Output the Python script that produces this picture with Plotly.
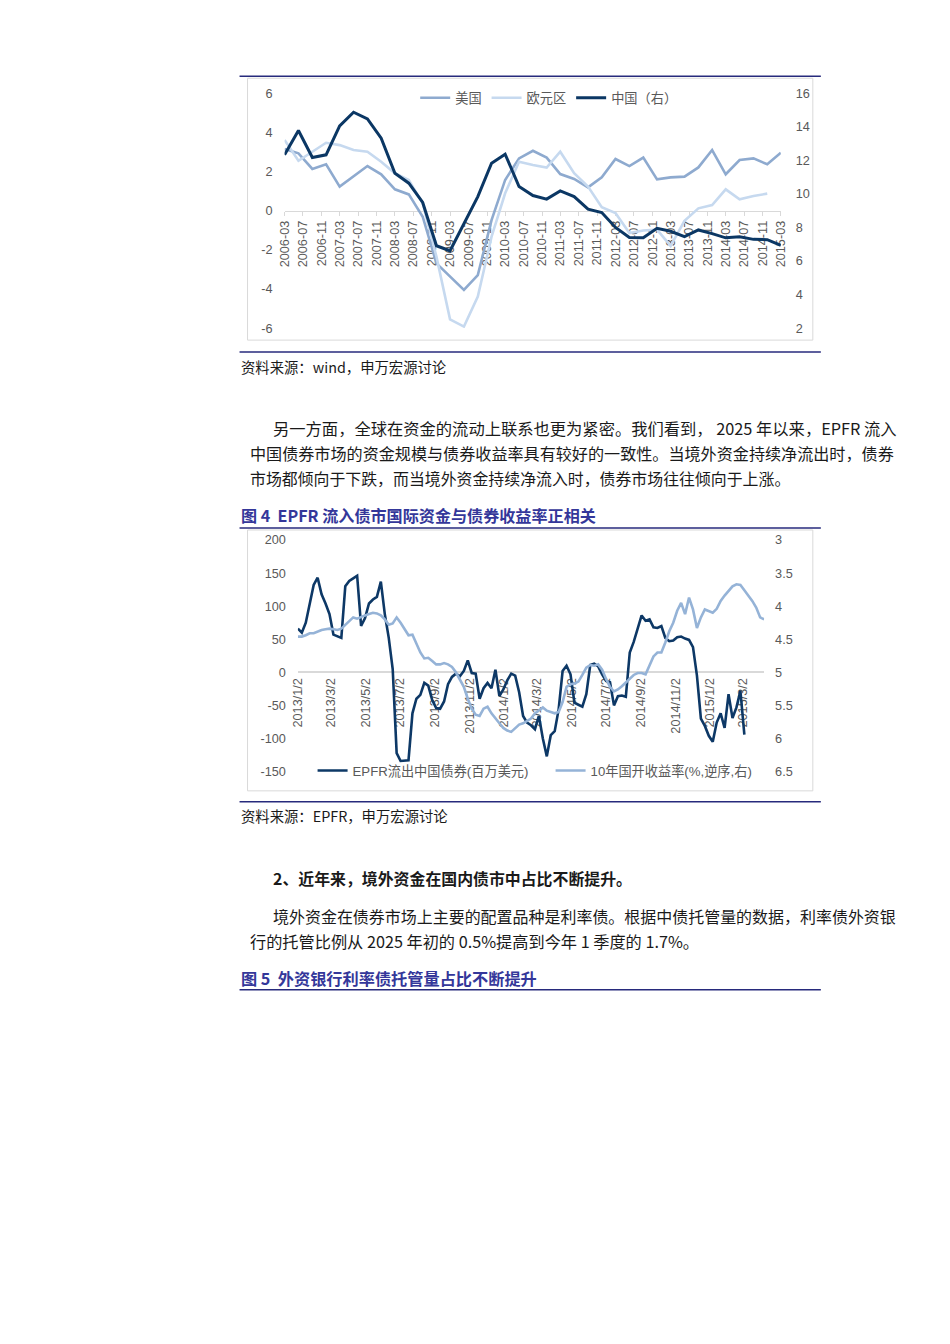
import pandas as pd
import plotly.graph_objects as go

# page is 950x1344; the browser keeps its 8px body margin
W, H = 950, 1344
PAD = 8
# measured: the photographed page comes out ~1.5% smaller, shifted ~7px
SX, OX = 0.9845, 7.7
SY, OY = 0.990, 6.8


def fx(x):
    return ((x - OX) / SX - PAD) / (W - 2 * PAD)


def fy(y):
    return 1 - ((y - OY) / SY - PAD) / (H - 2 * PAD)


# ---- chart 1: GDP growth, quarterly 2006-03 .. 2015-03 ----
us_growth = [3.15, 2.93, 2.13, 2.37, 1.23, 1.74, 2.28, 1.86, 1.09, 0.83, -0.31, -2.69,
             -3.37, -4.05, -3.29, -0.48, 1.57, 2.67, 3.06, 2.71, 1.87, 1.62, 1.19, 1.70,
             2.64, 2.28, 2.71, 1.60, 1.70, 1.74, 2.21, 3.10, 1.86, 2.59, 2.67, 2.37, 2.96]
euro_growth = [3.61, 2.55, 3.01, 3.47, 3.35, 3.10, 3.01, 2.50, 1.91, 1.57, 0.37, -2.35,
               -5.55, -5.92, -4.39, -1.33, 0.89, 2.50, 2.33, 2.20, 3.01, 1.91, 1.23, 0.18,
               -0.12, -1.14, -1.01, -0.97, -1.80, -0.52, 0.12, 0.29, 1.09, 0.58, 0.75, 0.87]
china_growth = [12.33, 13.78, 12.17, 12.33, 14.05, 14.87, 14.47, 13.32, 11.23, 10.64, 9.49, 6.91,
                6.61, 8.26, 9.84, 11.83, 12.37, 10.44, 9.90, 9.69, 10.18, 9.84, 9.09, 8.89,
                8.00, 7.40, 7.38, 7.95, 7.77, 7.45, 7.85, 7.63, 7.38, 7.45, 7.29, 7.27, 6.93]
quarters = pd.date_range("2006-03-01", periods=len(us_growth), freq="3MS")

# ---- chart 2: EPFR weekly flows vs 10y CDB yield ----
epfr_flow = [66, 60, 75, 105, 132, 143, 118, 104, 88, 57, 55, 52, 130, 138, 142, 146,
             70, 82, 104, 110, 114, 137, 88, 52, 5, -122, -134, -134, -133, -62, -40, -34,
             -16, -20, -42, -54, -55, -44, -18, -7, -2, -6, 2, 18, -1, -2, -40, -24,
             -16, -24, 4, -36, -26, -12, -2, -5, -30, -66, -76, -80, -86, -66, -100, -127,
             -95, -89, -56, 2, 10, -3, -46, -49, -52, -33, 11, 13, 9, -3, -13, -15,
             -50, -36, -35, -37, 30, 46, 67, 86, 78, 80, 68, 67, 70, 52, 47, 48,
             53, 54, 51, 49, 38, -5, -70, -81, -96, -105, -76, -62, -84, -33, -69, -53,
             -28, -94]
cdb_yield = [4.46, 4.46, 4.44, 4.41, 4.41, 4.38, 4.36, 4.35, 4.34, 4.35, 4.36, 4.34,
             4.28, 4.22, 4.17, 4.19, 4.16, 4.14, 4.12, 4.10, 4.11, 4.14, 4.20, 4.28,
             4.26, 4.17, 4.25, 4.35, 4.44, 4.43, 4.58, 4.70, 4.79, 4.78, 4.83, 4.88,
             4.88, 4.86, 4.88, 4.92, 5.00, 5.10, 5.22, 5.40, 5.55, 5.64, 5.66, 5.55,
             5.52, 5.62, 5.70, 5.77, 5.84, 5.88, 5.90, 5.84, 5.79, 5.77, 5.73, 5.70,
             5.62, 5.57, 5.53, 5.58, 5.60, 5.62, 5.60, 5.45, 5.22, 5.18, 5.17, 5.14,
             5.04, 4.93, 4.89, 4.90, 4.88, 4.96, 5.10, 5.22, 5.29, 5.26, 5.21, 5.15,
             5.09, 5.04, 5.01, 5.01, 5.03, 4.90, 4.76, 4.70, 4.70, 4.55, 4.38, 4.25,
             4.07, 3.95, 4.12, 3.87, 4.05, 4.33, 4.17, 4.05, 4.07, 4.10, 4.04, 3.92,
             3.84, 3.77, 3.70, 3.67, 3.68, 3.76, 3.84, 3.92, 4.02, 4.17, 4.20]
flow_weeks = pd.date_range("2013-01-02", periods=len(epfr_flow), freq="7D")
yield_weeks = pd.date_range("2013-01-02", periods=len(cdb_yield), freq="7D")
epfr_tick_labels = ["2013/1/2", "2013/3/2", "2013/5/2", "2013/7/2", "2013/9/2", "2013/11/2",
                    "2014/1/2", "2014/3/2", "2014/5/2", "2014/7/2", "2014/9/2", "2014/11/2",
                    "2015/1/2", "2015/3/2"]

left1_ticks = [-6, -4, -2, 0, 2, 4, 6]
right1_ticks = [2, 4, 6, 8, 10, 12, 14, 16]
left2_ticks = [-150, -100, -50, 0, 50, 100, 150, 200]
right2_ticks = [3, 3.5, 4, 4.5, 5, 5.5, 6, 6.5]

GRAY = "#595959"
AXIS_GRAY = "#d9d9d9"
CHART_FONT = "Liberation Sans, Arial, Noto Sans CJK SC, sans-serif"
TEXT_FONT = "Noto Sans CJK SC, sans-serif"

fig = go.Figure()

fig.add_trace(go.Scatter(x=quarters, y=us_growth, name="美国", mode="lines",
                         line=dict(color="#8eaacf", width=2.6), xaxis="x", yaxis="y"))
fig.add_trace(go.Scatter(x=quarters[:len(euro_growth)], y=euro_growth, name="欧元区", mode="lines",
                         line=dict(color="#c6d9ef", width=2.6), xaxis="x", yaxis="y"))
fig.add_trace(go.Scatter(x=quarters, y=china_growth, name="中国（右）", mode="lines",
                         line=dict(color="#0b3764", width=3), xaxis="x", yaxis="y2"))

fig.add_trace(go.Scatter(x=flow_weeks, y=epfr_flow, name="EPFR流出中国债券(百万美元)", mode="lines",
                         line=dict(color="#0d3866", width=2.6), xaxis="x2", yaxis="y3",
                         legend="legend2"))
fig.add_trace(go.Scatter(x=yield_weeks, y=cdb_yield, name="10年国开收益率(%,逆序,右)", mode="lines",
                         line=dict(color="#95b3d7", width=2.6), xaxis="x2", yaxis="y4",
                         legend="legend2"))

# plot areas (pixel coordinates)
y1_dom = [fy(328), fy(93)]
y2_dom = [fy(771.7), fy(540)]
zero1 = (y1_dom[0] + y1_dom[1]) / 2
zero2 = y2_dom[0] + (150 / 350) * (y2_dom[1] - y2_dom[0])

tickfont = dict(family=CHART_FONT, size=12.7, color=GRAY)

fig.update_layout(
    width=W - 2 * PAD, height=H - 2 * PAD,
    margin=dict(l=0, r=0, t=0, b=0),
    paper_bgcolor="white", plot_bgcolor="rgba(0,0,0,0)",
    font=dict(family=CHART_FONT, color=GRAY),
    xaxis=dict(domain=[fx(285), fx(781)], anchor="free", position=zero1, type="date",
               range=["2006-03-01", "2015-03-01"], tick0="2006-03-01", dtick="M4",
               tickformat="%Y-%m", tickangle=-90, tickfont=tickfont,
               showline=True, linecolor=AXIS_GRAY, linewidth=1,
               ticks="outside", ticklen=4, tickcolor=AXIS_GRAY,
               showgrid=False, zeroline=False, layer="below traces"),
    yaxis=dict(domain=y1_dom, anchor="x", range=[-6, 6], tickvals=left1_ticks,
               ticktext=[str(v) for v in left1_ticks], tickfont=tickfont,
               showgrid=False, zeroline=False, ticklabelstandoff=11),
    yaxis2=dict(domain=y1_dom, anchor="x", overlaying="y", side="right", range=[2, 16],
                tickvals=right1_ticks, tickfont=tickfont,
                showgrid=False, zeroline=False, ticklabelstandoff=14),
    xaxis2=dict(domain=[fx(298.3), fx(764.3)], anchor="free", position=zero2, type="date",
                range=["2013-01-02", "2015-04-08"],
                tickvals=pd.to_datetime(epfr_tick_labels, format="%Y/%m/%d"),
                ticktext=epfr_tick_labels, tickangle=-90, tickfont=tickfont,
                showline=True, linecolor=AXIS_GRAY, linewidth=1.5, ticks="",
                showgrid=False, zeroline=False, layer="below traces"),
    yaxis3=dict(domain=y2_dom, anchor="x2", range=[-150, 200], tickvals=left2_ticks,
                ticktext=[str(v) for v in left2_ticks], tickfont=tickfont,
                showgrid=False, zeroline=False, ticklabelstandoff=11),
    yaxis4=dict(domain=y2_dom, anchor="x2", overlaying="y3", side="right", range=[6.5, 3],
                tickvals=right2_ticks, tickfont=tickfont,
                showgrid=False, zeroline=False, ticklabelstandoff=10),
    legend=dict(orientation="h", x=fx(549), xanchor="center", y=fy(98), yanchor="middle",
                font=dict(family=CHART_FONT, size=13.2, color=GRAY), bgcolor="rgba(0,0,0,0)"),
    legend2=dict(orientation="h", x=fx(313), xanchor="left", y=fy(771), yanchor="middle",
                 font=dict(family=CHART_FONT, size=13.2, color=GRAY), bgcolor="rgba(0,0,0,0)",
                 entrywidth=193),
)

# page rules and chart frames
RULE = "#272a7c"
for ry in [76, 352, 528, 802, 990]:
    fig.add_shape(type="line", xref="paper", yref="paper", x0=fx(240), x1=fx(821),
                  y0=fy(ry), y1=fy(ry), line=dict(color=RULE, width=1.5))
for top, bottom in [(78, 340), (530, 791)]:
    fig.add_shape(type="rect", xref="paper", yref="paper", x0=fx(248), x1=fx(813),
                  y0=fy(bottom), y1=fy(top), line=dict(color=AXIS_GRAY, width=1), layer="below")

# page text
BODY = "#1a1a1a"
HEAD = "#34379a"
page_text = [
    (240, 366, "资料来源：wind，申万宏源讨论", 14.35, BODY, False),
    (272, 428, "另一方面，全球在资金的流动上联系也更为紧密。我们看到， 2025 年以来，EPFR 流入", 16.3, BODY, False),
    (249, 453, "中国债券市场的资金规模与债券收益率具有较好的一致性。当境外资金持续净流出时，债券", 16.1, BODY, False),
    (249, 478, "市场都倾向于下跌，而当境外资金持续净流入时，债券市场往往倾向于上涨。", 15.9, BODY, False),
    (240, 515, "图 4\u00a0\u00a0EPFR 流入债市国际资金与债券收益率正相关", 16.1, HEAD, True),
    (240, 816, "资料来源：EPFR，申万宏源讨论", 14.35, BODY, False),
    (272, 879, "2、近年来，境外资金在国内债市中占比不断提升。", 15.9, BODY, True),
    (272, 916, "境外资金在债券市场上主要的配置品种是利率债。根据中债托管量的数据，利率债外资银", 15.98, BODY, False),
    (249, 941, "行的托管比例从 2025 年初的 0.5%提高到今年 1 季度的 1.7%。", 16.2, BODY, False),
    (240, 978, "图 5\u00a0\u00a0外资银行利率债托管量占比不断提升", 16.2, HEAD, True),
]
for x, y, txt, size, color, bold in page_text:
    fig.add_annotation(x=fx(x), y=fy(y), xref="paper", yref="paper", xanchor="left",
                       yanchor="middle", showarrow=False, borderpad=0,
                       text=f"<b>{txt}</b>" if bold else txt,
                       font=dict(family=TEXT_FONT, size=size, color=color))

fig.write_html("out.html", config={"displayModeBar": False})
